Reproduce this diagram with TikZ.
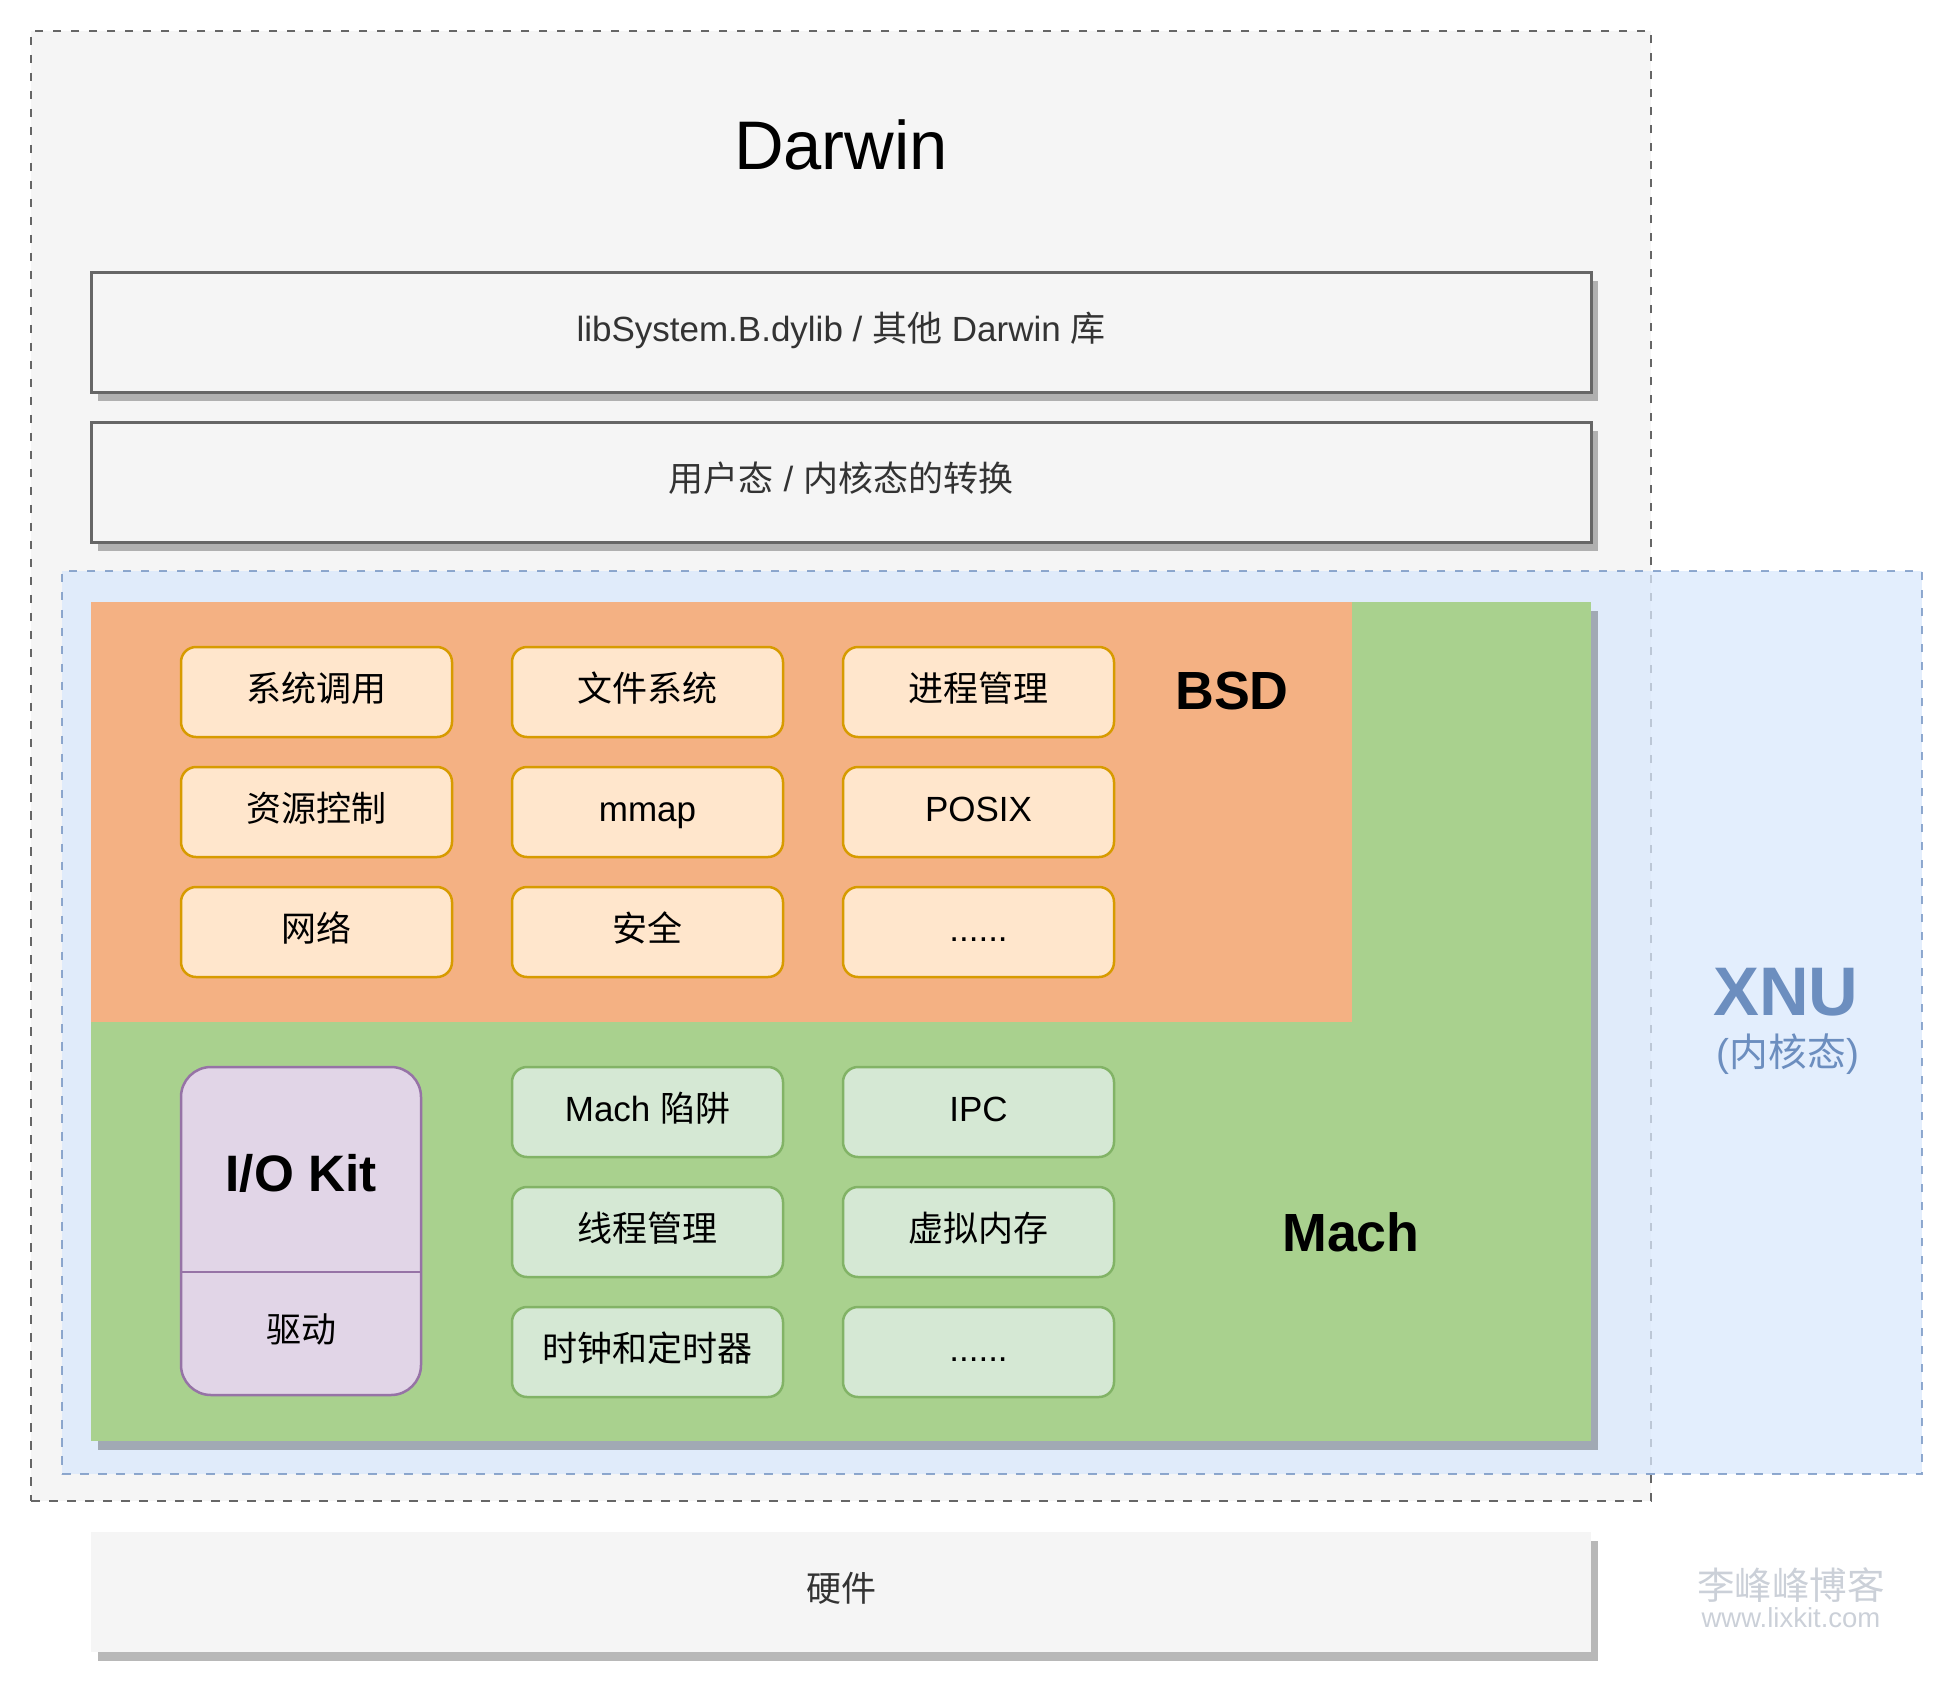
\documentclass[tikz,border=0pt]{standalone}
\usepackage{fontspec}
\usepackage{xcolor}
\usetikzlibrary{shadows}
\setmainfont{Liberation Sans}
\newfontfamily\cjk{Noto Sans CJK SC}
\definecolor{darwinfill}{HTML}{F5F5F5}
\definecolor{darwinline}{HTML}{666666}
\definecolor{xnufill}{HTML}{DAE8FC}
\definecolor{xnuline}{HTML}{6C8EBF}
\definecolor{machfill}{HTML}{A9D18E}
\definecolor{bsdfill}{HTML}{F4B183}
\definecolor{bsdcell}{HTML}{FFE6CC}
\definecolor{bsdline}{HTML}{D79B00}
\definecolor{machcell}{HTML}{D5E8D4}
\definecolor{machline}{HTML}{82B366}
\definecolor{iofill}{HTML}{E1D5E7}
\definecolor{ioline}{HTML}{9673A6}
\definecolor{textgray}{HTML}{333333}
\definecolor{markgray}{HTML}{CBD0D8}

\begin{document}
\begin{tikzpicture}[x=0.4pt,y=-0.4pt,
		every node/.style={inner sep=0pt,outer sep=0pt},
		boxshadow/.style={drop shadow={shadow xshift=2.8pt,shadow yshift=-3.6pt,fill=black,opacity=0.28}},
		dashline/.style={line width=1pt,dash pattern=on 3.4pt off 3.8pt},
		celltext/.style={font=\fontsize{14}{16}\selectfont,text height=0.88em,text depth=0.12em},
		layerbox/.style={anchor=north west,minimum width=600pt,minimum height=48pt,fill=darwinfill,text=textgray,celltext,boxshadow},
		bsdbox/.style={anchor=north west,rounded corners=6pt,minimum width=108.4pt,minimum height=36pt,fill=bsdcell,draw=bsdline,line width=1pt,celltext},
		machbox/.style={bsdbox,fill=machcell,draw=machline},
		biglabel/.style={font=\fontsize{21.5}{24}\selectfont\bfseries}]
	\useasboundingbox (0,0) rectangle (1953,1692);
	\node[anchor=north west,minimum width=648pt,minimum height=588pt,fill=darwinfill,draw=darwinline,dashline] (darwin) at (31,31) {};
	\node[font=\fontsize{27.5}{30}\selectfont] (darwintitle) at (841,145) {Darwin};
	\node[layerbox,draw=darwinline,line width=1.2pt] (libsys) at (91,272) {libSystem.B.dylib / {\cjk 其他} Darwin {\cjk 库}};
	\node[layerbox,draw=darwinline,line width=1.2pt] (mode) at (91,422) {{\cjk 用户态} / {\cjk 内核态的转换}};
	\node[anchor=north west,minimum width=744pt,minimum height=361.2pt,fill=xnufill,draw=xnuline,dashline,opacity=0.75] (xnu) at (62,571) {};
	\node[anchor=north west,minimum width=600pt,minimum height=335.6pt,fill=machfill,boxshadow] (mach) at (91,602) {};
	\node[anchor=north west,minimum width=504.4pt,minimum height=168pt,fill=bsdfill] (bsd) at (91,602) {};

	\node[bsdbox] (syscall) at (181,647) {\cjk 系统调用};
	\node[bsdbox] (fs) at (512,647) {\cjk 文件系统};
	\node[bsdbox] (proc) at (843,647) {\cjk 进程管理};
	\node[bsdbox] (res) at (181,767) {\cjk 资源控制};
	\node[bsdbox] (mmap) at (512,767) {mmap};
	\node[bsdbox] (posix) at (843,767) {POSIX};
	\node[bsdbox] (net) at (181,887) {\cjk 网络};
	\node[bsdbox] (sec) at (512,887) {\cjk 安全};
	\node[bsdbox] (bsdmore) at (843,887) {......};
	\node[biglabel] (bsdlabel) at (1232,691) {BSD};

	\node[anchor=north west,rounded corners=12pt,minimum width=96pt,minimum height=131.2pt,fill=iofill,draw=ioline,line width=1pt] (iokit) at (181,1067) {};
	\draw[ioline,line width=1pt] ([yshift=-16.4pt]iokit.west) -- ([yshift=-16.4pt]iokit.east);
	\node[font=\fontsize{20.5}{23}\selectfont\bfseries] (iokitlabel) at (301,1173) {I/O Kit};
	\node[celltext] (driver) at (301,1333) {\cjk 驱动};

	\node[machbox] (trap) at (512,1067) {Mach {\cjk 陷阱}};
	\node[machbox] (ipc) at (843,1067) {IPC};
	\node[machbox] (thread) at (512,1187) {\cjk 线程管理};
	\node[machbox] (vm) at (843,1187) {\cjk 虚拟内存};
	\node[machbox] (clock) at (512,1307) {\cjk 时钟和定时器};
	\node[machbox] (machmore) at (843,1307) {......};
	\node[biglabel] (machlabel) at (1351,1232) {Mach};

	\node[text=xnuline,font=\fontsize{27.5}{30}\selectfont\bfseries] (xnulabel) at (1786,992) {XNU};
	\node[text=xnuline,font=\fontsize{15.5}{18}\selectfont] (xnusub) at (1788,1054) {({\cjk 内核态})};

	\node[layerbox] (hw) at (91,1532) {\cjk 硬件};
	\node[text=markgray,font=\fontsize{15}{18}\selectfont] (mark) at (1791,1585) {\cjk 李峰峰博客};
	\node[text=markgray,font=\fontsize{11}{13}\selectfont] (site) at (1791,1618) {www.lixkit.com};
\end{tikzpicture}
\end{document}
